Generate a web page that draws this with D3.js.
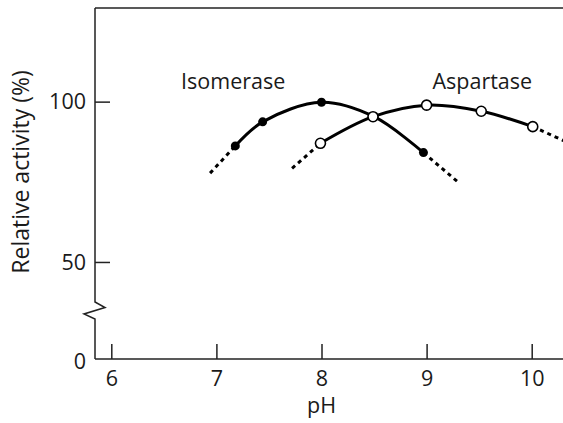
<!DOCTYPE html>
<html><head><meta charset="utf-8">
<script src="https://cdn.jsdelivr.net/npm/d3@7"></script>
<style>
html,body{margin:0;padding:0;background:#fff;}
svg text{font-family:"Open Sans",sans-serif;fill:#1a1a1a;}
</style></head>
<body><svg id="c" width="563" height="423"></svg>
<script>
// ---- data ----
const isomerasePH   = [7.18, 7.44, 8.0, 8.5, 8.97];
const isomeraseAct  = [86.2, 93.7, 99.8, 95.3, 84.1];
const isomeraseExtLeft  = [[6.94, 77.7], [7.18, 86.2]];
const isomeraseExtRight = [[8.97, 84.1], [9.30, 74.9]];
const aspartasePH   = [7.99, 8.49, 9.0, 9.52, 10.01];
const aspartaseAct  = [87.0, 95.3, 98.9, 97.0, 92.2];
const aspartaseExtLeft  = [[7.72, 79.2], [7.99, 87.0]];
const aspartaseExtRight = [[10.01, 92.2], [10.4, 86.4]];
const xTicks = [6, 7, 8, 9, 10];
const yTicks = [0, 50, 100];
const seriesLabels = [{text: "Isomerase", ph: 7.16, v: 103.9}, {text: "Aspartase", ph: 9.53, v: 103.9}];

(function () {
// ---- scales ----
const x = d3.scaleLinear().domain([6, 10]).range([111.3, 531.7]);
const y = d3.scaleLinear().domain([0, 30, 129.2]).range([359, 326.1, 8]);

const svg = d3.select("#c");
const mLeft = 95, mTop = 8, mBottom = 359, mRight = 600;
const axisColor = "#222";
const fs = 21.5;

svg.append("line").attr("x1", mLeft).attr("x2", mRight).attr("y1", mTop).attr("y2", mTop)
  .attr("stroke", axisColor).attr("stroke-width", 1.5);

// left axis with break
const breakTop = 302, breakBot = 319;
svg.append("path")
  .attr("d", `M${mLeft},${mTop}L${mLeft},${breakTop}L${mLeft+10},${breakTop+5.5}L${mLeft-11},${breakTop+12}L${mLeft},${breakBot}L${mLeft},${mBottom}`)
  .attr("fill", "none").attr("stroke", axisColor).attr("stroke-width", 1.5).attr("stroke-linejoin", "miter");

// x axis
const gx = svg.append("g").attr("transform", `translate(0,${mBottom})`)
  .call(d3.axisBottom(x).tickValues(xTicks).tickSize(-15).tickPadding(12).tickFormat(d3.format("d")));
gx.select(".domain").remove();
svg.append("line").attr("x1", mLeft).attr("x2", mRight).attr("y1", mBottom).attr("y2", mBottom)
  .attr("stroke", axisColor).attr("stroke-width", 1.5);
gx.selectAll(".tick line").attr("stroke", axisColor).attr("stroke-width", 1.5);
gx.selectAll(".tick text").attr("font-size", fs).attr("font-family", "Open Sans").attr("fill", "#1a1a1a");

// y axis ticks
const gy = svg.append("g").attr("transform", `translate(${mLeft},0)`)
  .call(d3.axisLeft(y).tickValues(yTicks).tickSize(-15).tickPadding(9).tickFormat(d3.format("d")));
gy.select(".domain").remove();
gy.selectAll(".tick line").attr("stroke", axisColor).attr("stroke-width", 1.5)
  .attr("display", d => d === 0 ? "none" : null);
gy.selectAll(".tick text").attr("font-size", fs).attr("font-family", "Open Sans").attr("fill", "#1a1a1a")
  .attr("dy", d => d === 0 ? "0.42em" : "0.34em");

// axis titles
svg.append("text").attr("x", x(8)).attr("y", 413).attr("text-anchor", "middle")
  .attr("font-size", fs).text("pH");
svg.append("text").attr("transform", `translate(29,172) rotate(-90)`).attr("text-anchor", "middle")
  .attr("font-size", 23).text("Relative activity (%)");

// curves
const line = d3.line().x(d => x(d[0])).y(d => y(d[1])).curve(d3.curveCatmullRom.alpha(0.5));
const straight = d3.line().x(d => x(d[0])).y(d => y(d[1]));
const iso = isomerasePH.map((p, i) => [p, isomeraseAct[i]]);
const asp = aspartasePH.map((p, i) => [p, aspartaseAct[i]]);

[isomeraseExtLeft, isomeraseExtRight, aspartaseExtLeft, aspartaseExtRight].forEach(seg => {
  svg.append("path").attr("d", straight(seg)).attr("fill", "none").attr("stroke", "#000")
    .attr("stroke-width", 3).attr("stroke-dasharray", "4,4");
});
svg.append("path").attr("d", line(iso)).attr("fill", "none").attr("stroke", "#000").attr("stroke-width", 3);
svg.append("path").attr("d", line(asp)).attr("fill", "none").attr("stroke", "#000").attr("stroke-width", 3);

svg.selectAll(".iso").data(iso).join("circle").attr("class", "iso")
  .attr("cx", d => x(d[0])).attr("cy", d => y(d[1])).attr("r", 4.5).attr("fill", "#000");
svg.selectAll(".asp").data(asp).join("circle").attr("class", "asp")
  .attr("cx", d => x(d[0])).attr("cy", d => y(d[1])).attr("r", 5).attr("fill", "#fff")
  .attr("stroke", "#000").attr("stroke-width", 1.6);

svg.selectAll(".lab").data(seriesLabels).join("text").attr("class", "lab")
  .attr("x", d => x(d.ph)).attr("y", d => y(d.v)).attr("text-anchor", "middle")
  .attr("font-size", fs).text(d => d.text);
})();
</script></body></html>
